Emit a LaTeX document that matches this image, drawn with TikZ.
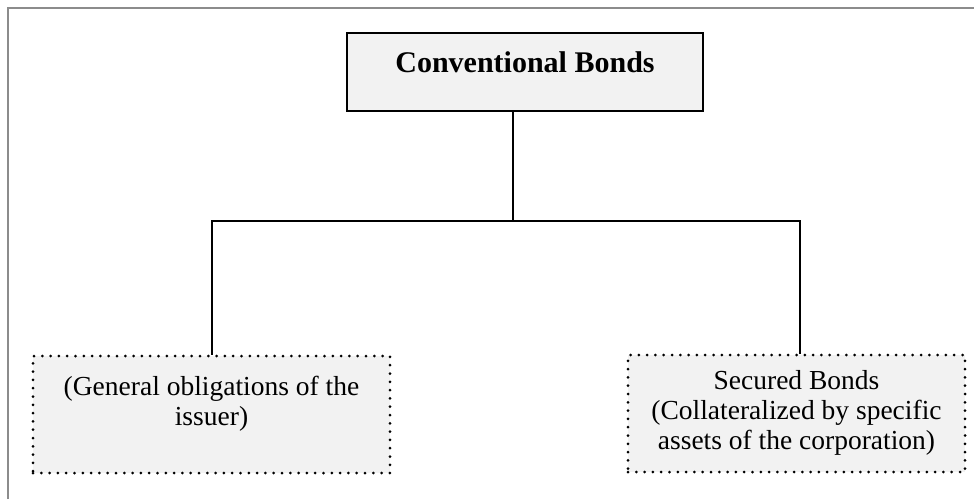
\documentclass[tikz,border=0pt]{standalone}
\usepackage{fontspec}
\setmainfont{Liberation Serif}
\definecolor{boxfill}{rgb}{0.949,0.949,0.949}
\definecolor{framegray}{rgb}{0.55,0.55,0.55}
% invisible struts that place the text inside the dotted boxes
\newcommand{\tophi}{\rule{0pt}{20pt}}
\newcommand{\botlo}[1]{\rule[-#1]{0pt}{#1}}
\tikzset{
  topbox/.style={draw=black, line width=2.5pt, fill=boxfill, inner sep=0pt,
    minimum width=356pt, minimum height=78pt, text height=20pt, text depth=20pt,
    font=\fontsize{30}{32}\selectfont\bfseries},
  dotbox/.style={draw=black, line width=3pt, line cap=round,
    dash pattern=on 0pt off 8.3pt, fill=boxfill, inner sep=0pt, align=center,
    minimum height=117pt, font=\fontsize{27.5}{30}\selectfont},
  link/.style={draw=black, line width=2.3pt}
}
\begin{document}
\begin{tikzpicture}[x=1pt,y=-1pt]
\useasboundingbox (0,0) rectangle (974,499);
% outer frame
\draw[framegray, line width=1.5pt] (8,499) -- (8,8) -- (974,8);
% boxes
\node[topbox] (conv) at (525,72) {Conventional Bonds};
\node[dotbox, minimum width=357pt] (general) at (211.5,414.5)
  {\tophi(General obligations of the\\issuer)\botlo{29pt}};
\node[dotbox, minimum width=337pt] (secured) at (796.5,413.5)
  {\tophi Secured Bonds\\(Collateralized by specific\\assets of the corporation)\botlo{9pt}};
% connectors
\coordinate (split) at (513,221);
\coordinate (busw) at (212,221);
\coordinate (buse) at (800,221);
\draw[link] (split |- conv.south) -- (split);
\draw[link] (busw |- general.north) -- (busw) -- (buse) -- (buse |- secured.north);
\end{tikzpicture}
\end{document}
